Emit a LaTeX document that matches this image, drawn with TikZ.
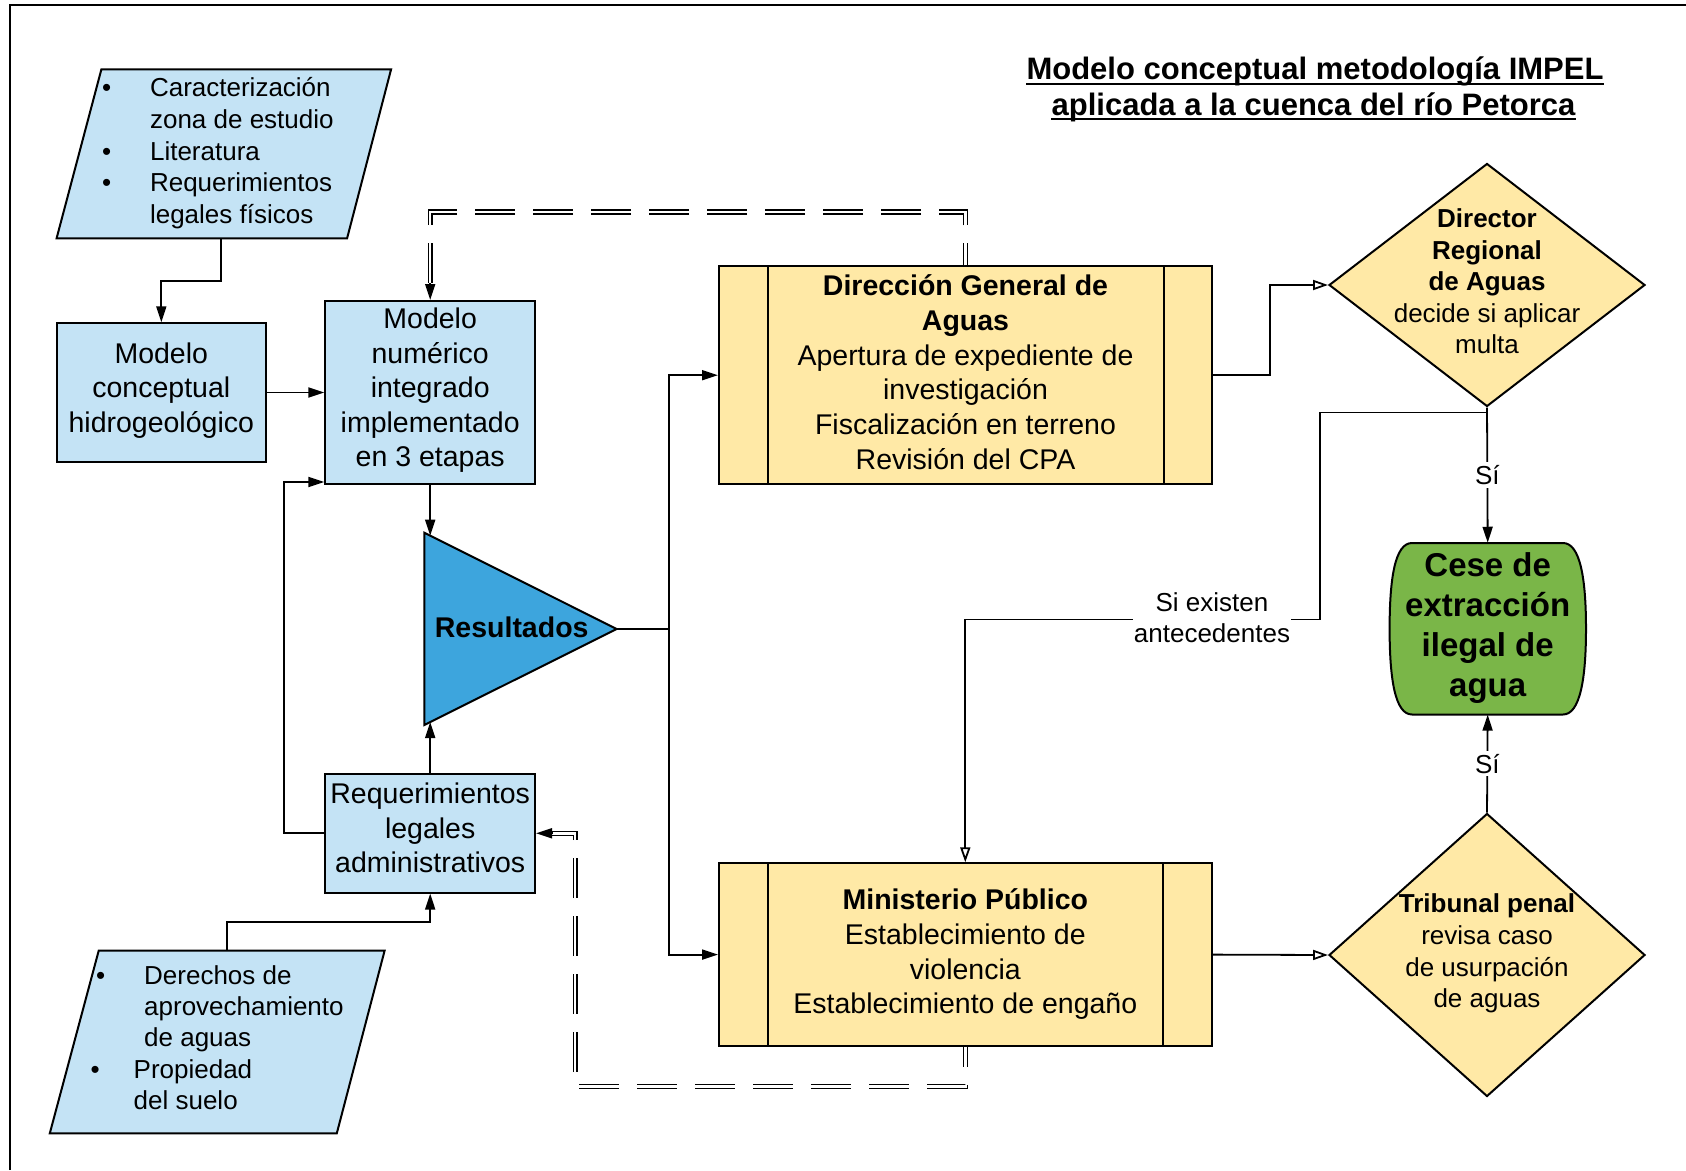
\documentclass[tikz,border=0pt]{standalone}
\usepackage{fontspec}
\setmainfont{Liberation Sans}
\usetikzlibrary{shapes.geometric, arrows.meta, calc}
\definecolor{lblue}{HTML}{C4E3F5}
\definecolor{dblue}{HTML}{3DA5DD}
\definecolor{lyel}{HTML}{FFE9A6}
\definecolor{lgreen}{HTML}{7AB648}
\newcommand\myfs[2]{\fontsize{#1}{#2}\selectfont}
\begin{document}
\begin{tikzpicture}[x=1pt,y=-1pt, line join=miter,
  txt/.style={align=center, inner sep=0pt, execute at begin node=\strut, execute at end node=\strut},
  box/.style={txt, draw, line width=2pt, fill=lblue, font=\myfs{28.5}{34.5}},
  ybox/.style={txt, draw, line width=2pt, fill=lyel, font=\myfs{28.5}{34.7}},
  dia/.style={diamond, draw, line width=2pt, fill=lyel, inner sep=0pt},
  conn/.style={line width=1.8pt},
  arr/.style={conn, -{Triangle[length=16pt,width=10pt]}},
  oarr/.style={conn, -{Triangle[open, length=15pt, width=10pt, fill=white]}},
  dbl/.style={double, line width=1.3pt, double distance=2.5pt, dash pattern=on 40pt off 18pt},
  lbl/.style={fill=white, inner sep=3pt, font=\myfs{26}{31.6}},
  shp/.style={line width=2pt, draw},
]
\useasboundingbox (0,0) rectangle (1686,1170);
% frame
\draw[line width=2pt] (10,1170) -- (10,5) -- (1686,5);

% title
\node[font=\bfseries\myfs{31}{34}, inner sep=0pt, anchor=base] (t1) at (1315,79) {Modelo conceptual metodología IMPEL};
\node[font=\bfseries\myfs{31}{34}, inner sep=0pt, anchor=base] (t2) at (1313.5,115.5) {aplicada a la cuenca del río Petorca};
\draw[line width=2pt] ([yshift=-5pt]t1.base west) -- ([yshift=-5pt]t1.base east);
\draw[line width=2pt] ([yshift=-3pt]t2.base west) -- ([yshift=-3pt]t2.base east);

% parallelogram 1
\draw[shp, fill=lblue] (101.4,69.3) -- (391.1,69.3) -- (347.1,238.3) -- (56.6,238.3) -- cycle;
\coordinate (p1s) at (220.8,238.3);
\node[anchor=north west, align=left, inner sep=0pt, font=\myfs{26}{31.6}] (p1) at (101.85,74.6)
 {\strut\makebox[48pt][l]{•}Caracterización\\\hspace*{48pt}zona de estudio\\\makebox[48pt][l]{•}Literatura\\\makebox[48pt][l]{•}Requerimientos\\\hspace*{48pt}legales físicos};

% parallelogram 2
\draw[shp, fill=lblue] (98.7,950.7) -- (384.6,950.7) -- (336.8,1133.3) -- (49.8,1133.3) -- cycle;
\coordinate (p2n) at (227,950.7);
\node[anchor=north west, align=left, inner sep=0pt, font=\myfs{26}{31.4}] (p2) at (90.5,961.9)
 {\strut\hspace*{5.3pt}\makebox[48.2pt][l]{•}Derechos de\\\hspace*{53.5pt}aprovechamiento\\\hspace*{53.5pt}de aguas\\\makebox[43pt][l]{•}Propiedad\\\hspace*{43pt}del suelo};

% blue boxes
\node[box, minimum width=209.4pt, minimum height=138.4pt] (mc) at (161.3,392.5) {Modelo\\conceptual\\hidrogeológico};
\node[box, minimum width=209.7pt, minimum height=183pt] (mn) at (430.2,392.5) {Modelo\\numérico\\integrado\\implementado\\en 3 etapas};
\node[box, minimum width=209.7pt, minimum height=118.7pt] (req) at (430.2,833.3) {Requerimientos\\legales\\administrativos};

% triangle
\draw[shp, fill=dblue] (424.3,532.7) -- (616.7,629) -- (424.3,725) -- cycle;
\coordinate (rtop) at (430.2,535.7);
\coordinate (rbot) at (430.2,722);
\coordinate (rtip) at (616.7,629);
\node[font=\bfseries\myfs{28.5}{34}, inner sep=0pt] (res) at (511.7,627) {Resultados};

% yellow process boxes
\node[ybox, minimum width=493pt, minimum height=217.5pt] (dga) at (965.5,375.2) {};
\node[txt, font=\myfs{28.5}{34.7}] (dgat) at (965.5,377.2)
 {\textbf{Dirección General de}\\\textbf{Aguas}\\Apertura de expediente de\\investigación\\Fiscalización en terreno\\Revisión del CPA};
\draw[line width=2pt] ($(dga.north west)+(49.5,0)$) -- ($(dga.south west)+(49.5,0)$);
\draw[line width=2pt] ($(dga.north east)+(-49.5,0)$) -- ($(dga.south east)+(-49.5,0)$);
\node[ybox, minimum width=492.5pt, minimum height=182.7pt] (mp) at (965.3,954.6) {};
\node[txt, font=\myfs{28.5}{34.7}] (mpt) at (965.3,956.6)
 {\textbf{Ministerio Público}\\Establecimiento de\\violencia\\Establecimiento de engaño};
\draw[line width=2pt] ($(mp.north west)+(49.5,0)$) -- ($(mp.south west)+(49.5,0)$);
\draw[line width=2pt] ($(mp.north east)+(-49.5,0)$) -- ($(mp.south east)+(-49.5,0)$);

% diamonds
\node[dia, minimum width=316pt, minimum height=243pt] (d1) at (1487,285) {};
\node[txt, font=\myfs{26}{31.5}] (d1t) at (1487,286) {\textbf{Director}\\\textbf{Regional}\\\textbf{de Aguas}\\decide si aplicar\\multa};
\node[dia, minimum width=316pt, minimum height=283pt] (d2) at (1487,955) {};
\node[txt, font=\myfs{26}{31.8}] (d2t) at (1487,955.5) {\textbf{Tribunal penal}\\revisa caso\\de usurpación\\de aguas};

% green terminal
\draw[shp, fill=lgreen] (1412,543) -- (1563,543)
  .. controls (1580,543) and (1586,578) .. (1586,628.7)
  .. controls (1586,679) and (1580,714.5) .. (1563,714.5)
  -- (1412,714.5)
  .. controls (1395,714.5) and (1389.6,679) .. (1389.6,628.7)
  .. controls (1389.6,578) and (1395,543) .. (1412,543) -- cycle;
\node[txt, minimum width=196pt, minimum height=171.5pt, font=\bfseries\myfs{33}{40}] (cese) at (1487.7,628.7) {};
\node[txt, font=\bfseries\myfs{33}{40}] (cesetxt) at (1487.7,630.5) {Cese de\\extracción\\ilegal de\\agua};

% connectors
\draw[arr] (p1s) -- ++(0,42.7) -| (mc.north);
\draw[arr] (mc.east) -- (mn.west);
\draw[dbl, dash phase=18pt] (dga.north) -- ++(0,-53.5) -| ($(mn.north)+(0,-16)$);
\draw[arr] ($(mn.north)+(0,-17)$) -- (mn.north);
\draw[dbl, dash phase=20pt] (mp.south) -- ++(0,39.5) -| ($(req.east)+(39,0)$) -- ($(req.east)+(16,0)$);
\draw[arr] ($(req.east)+(17,0)$) -- (req.east);
\draw[arr] (mn.south) -- (rtop);
\draw[arr] (req.north) -- (rbot);
\draw[arr] (req.west) -- ++(-40.3,0) |- ($(mn.south west)+(0,-3)$);
\draw[arr] (p2n) -- ++(0,-29) -| (req.south);
\coordinate (trunk) at (669.3,629);
\draw[arr] (rtip) -- (trunk) |- (dga.west);
\draw[arr] (rtip) -- (trunk) |- (mp.west);
\draw[oarr] (dga.east) -- ++(57,0) |- (d1.west);
\draw[arr] (d1.south) -- node[lbl] (si1) {Sí} (cese.north);
\draw[oarr] (d1.south) -- ++(0,5) -| (1319.7,619.5) -| node[pos=0.152, lbl, inner sep=1pt, align=center, yshift=2pt] (ante) {Si existen\\antecedentes} (mp.north);
\draw[oarr] (mp.east) -- (d2.west);
\draw[arr] (d2.north) -- node[lbl] (si2) {Sí} (cese.south);
\end{tikzpicture}
\end{document}
